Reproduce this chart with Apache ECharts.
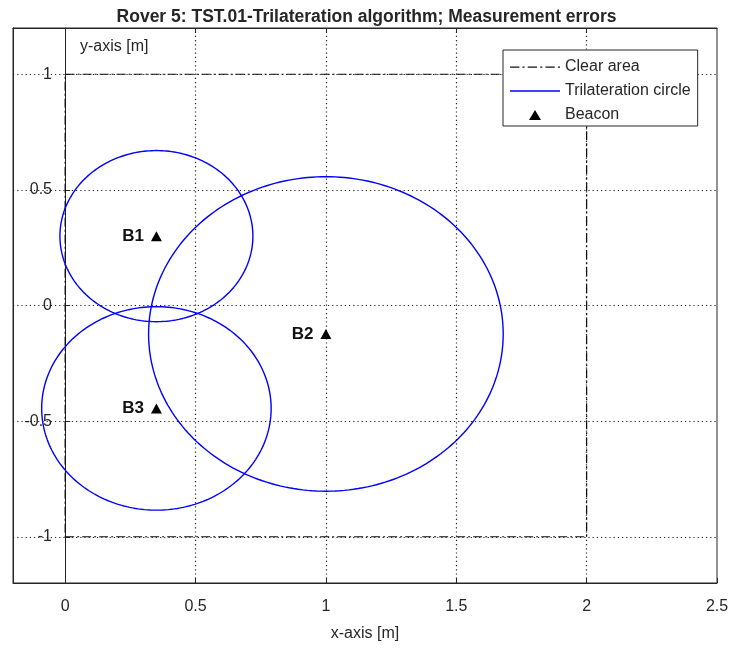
<!DOCTYPE html>
<html>
<head>
<meta charset="utf-8">
<script src="https://cdn.jsdelivr.net/npm/echarts@6/dist/echarts.min.js"></script>
<style>
  html, body { margin: 0; padding: 0; background: #ffffff; }
  #chart { width: 733px; height: 650px; }
</style>
</head>
<body>
<div id="chart"></div>
<script>
// Axis ranges and tick positions
const xRange = [-0.2, 2.5];
const yRange = [-1.2, 1.2];
const xTicks = [0, 0.5, 1, 1.5, 2, 2.5];
const xGrid = [0.5, 1, 1.5, 2];
const yTicks = [-1, -0.5, 0, 0.5, 1];

// Clear area boundary (rectangle corners, closed)
const clearAreaX = [0, 2, 2, 0, 0];
const clearAreaY = [-1, -1, 1, 1, -1];

// Beacons: name, x, y
const beaconNames = ['B1', 'B2', 'B3'];
const beaconX = [0.35, 1.0, 0.35];
const beaconY = [0.30, -0.123, -0.445];

// Trilateration circle radius measured around each beacon
const circleRadius = [0.37, 0.68, 0.44];

const FONT = "'Liberation Sans', Arial, sans-serif";
const INK = '#262626';

// Legend sample glyphs (drawn inside a 50 x h box)
const ICON_DASHDOT = 'path://M0,0H9V1.2H0Z M12,0H14V1.2H12Z M17,0H26V1.2H17Z M29,0H31V1.2H29Z M34,0H43V1.2H34Z M46,0H48V1.2H46Z';
const ICON_SOLID = 'path://M0,0H50V1.4H0Z';
const ICON_TRIANGLE = 'path://M0,0L0.01,0L0,0.01Z M25,2L31,12L19,12Z M50,14L49.99,14L50,13.99Z';

const chart = echarts.init(document.getElementById('chart'), null, { renderer: 'canvas' });

const clearAreaData = clearAreaX.map((x, i) => [x, clearAreaY[i]]);
const beaconData = beaconNames.map((n, i) => ({ name: n, value: [beaconX[i], beaconY[i]] }));
const circleData = beaconNames.map((n, i) => [beaconX[i], beaconY[i], circleRadius[i]]);

const gridLines = xGrid.map(v => ({ xAxis: v })).concat(yTicks.map(v => ({ yAxis: v })));

const option = {
  backgroundColor: '#ffffff',
  animation: false,
  textStyle: { fontFamily: FONT },
  title: {
    text: 'Rover 5: TST.01-Trilateration algorithm; Measurement errors',
    left: 'center',
    top: 3,
    textStyle: { fontFamily: FONT, fontSize: 17.5, fontWeight: 'bold', color: INK }
  },
  grid: {
    left: 13, right: 16, top: 28, bottom: 67,
    outerBoundsMode: 'none',
    containLabel: false,
    show: true, borderColor: INK, borderWidth: 1, backgroundColor: '#ffffff'
  },
  legend: {
    orient: 'vertical',
    left: 503, top: 50,
    padding: [9, 7, 3, 7],
    itemGap: 8,
    itemWidth: 50, itemHeight: 17,
    backgroundColor: '#ffffff',
    borderColor: INK, borderWidth: 1,
    textStyle: { fontFamily: FONT, fontSize: 16, color: INK },
    data: [
      { name: 'Clear area', icon: ICON_DASHDOT, itemStyle: { color: '#111111' } },
      { name: 'Trilateration circle', icon: ICON_SOLID, itemStyle: { color: '#0000ff' } },
      { name: 'Beacon', icon: ICON_TRIANGLE, itemStyle: { color: '#000000' } }
    ]
  },
  graphic: [{
    type: 'text', left: 80, top: 39,
    style: { text: 'y-axis [m]', font: '16px ' + FONT, fill: INK }
  }],
  xAxis: [{
    type: 'value', min: xRange[0], max: xRange[1], position: 'bottom',
    axisLine: { onZero: false, lineStyle: { color: INK } },
    axisTick: { inside: true, length: 5, customValues: xTicks, lineStyle: { color: INK } },
    axisLabel: { customValues: xTicks, margin: 16, fontSize: 16, color: INK, fontFamily: FONT },
    splitLine: { show: false },
    name: 'x-axis [m]', nameLocation: 'middle', nameGap: 43,
    nameTextStyle: { fontSize: 16, color: INK, fontFamily: FONT }
  }, {
    type: 'value', min: xRange[0], max: xRange[1], position: 'top',
    axisLine: { onZero: false, lineStyle: { color: INK } },
    axisTick: { inside: true, length: 5, customValues: xGrid, lineStyle: { color: INK } },
    axisLabel: { show: false },
    splitLine: { show: false }
  }],
  yAxis: [{
    // frame side carrying the value labels, drawn inside the plot
    type: 'value', min: yRange[0], max: yRange[1], position: 'left',
    axisLine: { show: true, onZero: false, lineStyle: { color: INK } },
    axisTick: { show: false },
    axisLabel: { inside: true, align: 'right', customValues: yTicks, margin: 39, fontSize: 16, color: INK, fontFamily: FONT },
    splitLine: { show: false }
  }, {
    // y axis through x = 0
    type: 'value', min: yRange[0], max: yRange[1], position: 'left',
    axisLine: { show: true, onZero: true, onZeroAxisIndex: 0, lineStyle: { color: INK } },
    axisTick: { inside: true, length: 5, customValues: yTicks, lineStyle: { color: INK } },
    axisLabel: { show: false },
    splitLine: { show: false }
  }],
  series: [{
    name: 'Clear area',
    type: 'line',
    data: clearAreaData,
    symbol: 'none',
    z: 3,
    lineStyle: { color: '#111111', width: 1.2, type: [9, 3, 2, 3] },
    itemStyle: { color: '#111111' },
    markLine: {
      silent: true,
      symbol: 'none',
      label: { show: false },
      lineStyle: { color: '#222222', width: 1.2, type: [1.2, 3] },
      data: gridLines,
      z: 1
    }
  }, {
    name: 'Trilateration circle',
    type: 'custom',
    data: circleData,
    z: 4,
    renderItem: function (params, api) {
      const cx = api.value(0), cy = api.value(1), r = api.value(2);
      const pts = [];
      const n = 240;
      for (let k = 0; k <= n; k++) {
        const t = (k / n) * Math.PI * 2;
        pts.push(api.coord([cx + r * Math.cos(t), cy + r * Math.sin(t)]));
      }
      return {
        type: 'polyline',
        shape: { points: pts },
        style: { fill: 'none', stroke: '#0000ff', lineWidth: 1.4 }
      };
    },
    itemStyle: { color: '#0000ff' }
  }, {
    name: 'Beacon',
    type: 'scatter',
    data: beaconData,
    symbol: 'triangle',
    symbolSize: [11, 10],
    z: 5,
    itemStyle: { color: '#000000', opacity: 1 },
    label: {
      show: true, position: 'left', distance: 7,
      formatter: '{b}',
      fontFamily: FONT, fontSize: 17, fontWeight: 'bold', color: '#111111'
    }
  }]
};

chart.setOption(option);
</script>
</body>
</html>
